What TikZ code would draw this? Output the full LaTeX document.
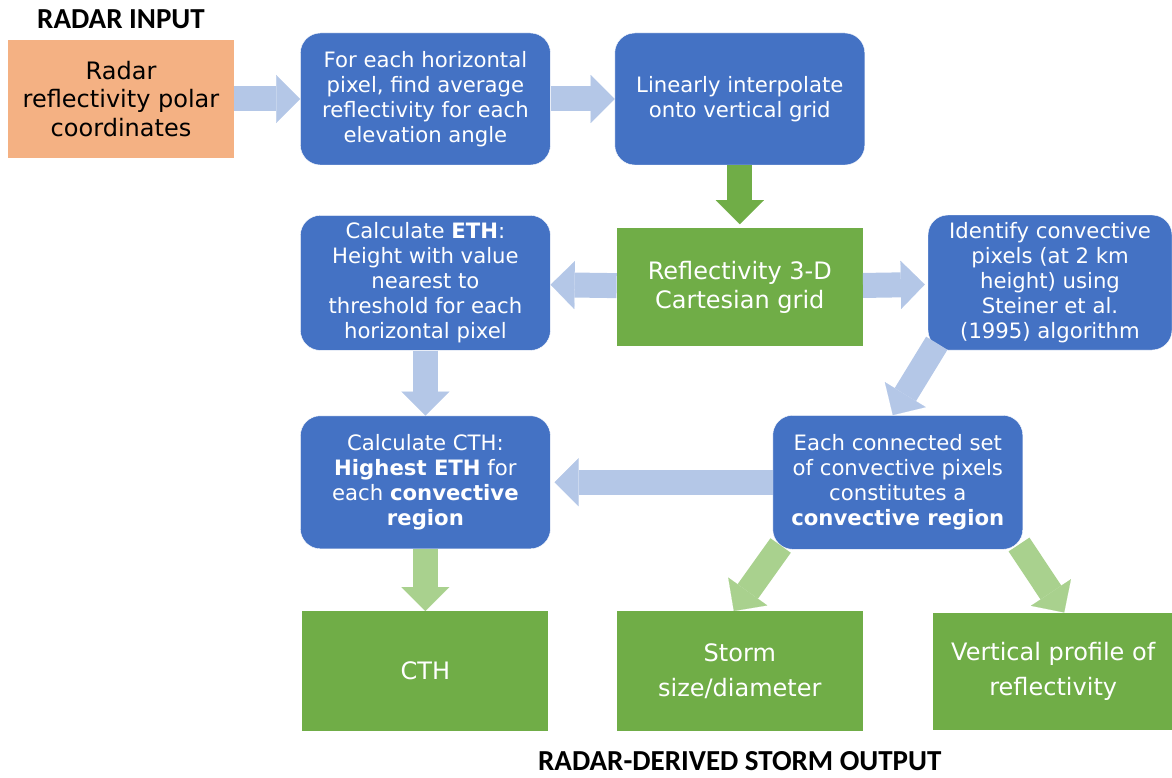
\documentclass[tikz,border=0pt]{standalone}
\usepackage{fontspec}
\setmainfont{DejaVu Sans}
\newfontfamily\headfont{Carlito}
\usetikzlibrary{arrows.meta,positioning}
\definecolor{procblue}{HTML}{4472C4}
\definecolor{gridgreen}{HTML}{70AD47}
\definecolor{inorange}{HTML}{F4B183}
\definecolor{paleblue}{HTML}{B4C7E7}
\definecolor{palegreen}{HTML}{A9D18E}
\tikzset{
    %Define style for process boxes
    process/.style={
           rectangle,
           rounded corners=20pt,
           draw=white, thin,
           fill=procblue,
           text=white,
           minimum width=250pt,
           minimum height=133pt,
           inner sep=0pt,
           font=\fontsize{21.2}{25}\selectfont,
           align=center},
    %Define style for products
    product/.style={
           rectangle,
           fill=gridgreen,
           text=white,
           minimum width=246pt,
           minimum height=118pt,
           inner sep=0pt,
           font=\fontsize{24}{29}\selectfont,
           align=center},
    input/.style={
           rectangle,
           fill=inorange,
           text=black,
           minimum width=226pt,
           minimum height=118pt,
           inner sep=0pt,
           font=\fontsize{24}{28.5}\selectfont,
           align=center},
    heading/.style={
           inner sep=0pt,
           font=\headfont\bfseries\fontsize{29}{32}\selectfont},
    % Define arrow styles
    blockarr/.style={
           -{Triangle[length=24pt,width=48pt,line width=0.1pt]},
           line width=25pt},
    pale/.style={blockarr, draw=paleblue},
    paleg/.style={blockarr, draw=palegreen},
    darkg/.style={blockarr, draw=gridgreen}
}
\begin{document}
\begin{tikzpicture}[x=1pt,y=-1pt]
\useasboundingbox (0,0) rectangle (1172,778);
 %nodes
\node[input](1) at (121,99){Radar\\reflectivity polar\\coordinates};
\node[process, minimum height=132pt, right=66pt of 1](2){For each horizontal\\pixel, find average\\reflectivity for each\\elevation angle};
\node[process, minimum height=132pt, right=64pt of 2](3){Linearly interpolate\\onto vertical grid};
\node[product, below=63pt of 3](4){Reflectivity 3-D\\Cartesian grid};
\node[process, minimum height=135pt, below=50pt of 2](5){Calculate \textbf{ETH}:\\Height with value\\nearest to\\threshold for each\\horizontal pixel};
\node[process, minimum width=244pt, minimum height=135pt](6) at (1050,282.5){Identify convective\\pixels (at 2 km\\height) using\\Steiner et al.\\(1995) algorithm};
\node[process, below=65pt of 5](7){Calculate CTH:\\\textbf{Highest ETH} for\\each \textbf{convective}\\\textbf{region}};
\node[process, minimum height=134pt, right=222pt of 7](8){Each connected set\\of convective pixels\\constitutes a\\\textbf{convective region}};
\node[product, minimum height=120pt, below=62pt of 7](9){CTH};
\node[product, minimum height=120pt, right=68pt of 9](10){Storm\\[6pt]size/diameter};
\node[product, minimum width=240pt, minimum height=117pt, right=70pt of 10](11){Vertical profile of\\[6pt]reflectivity};
\node[heading, above=11pt of 1](12){RADAR INPUT};
\node[heading, below=20pt of 10](13){RADAR-DERIVED STORM OUTPUT};
 %arrows
\draw[pale] (1) -- (2);
\draw[pale] (2) -- (3);
\draw[darkg, shorten >=4pt] (3) -- (4);
\draw[pale] (4) -- (5);
\draw[pale, shorten >=3pt] (4) -- (6);
\draw[pale] (5) -- (7);
\draw[pale, shorten >=4pt] (8) -- (7);
\draw[pale] ([shift={(9pt,7pt)}]6.south west) -- ([xshift=-5pt]8.north);
\draw[paleg] (7) -- (9);
\draw[paleg] ([shift={(8pt,4pt)}]8.south west) -- ([xshift=-6pt]10.north);
\draw[paleg] ([shift={(-4pt,5pt)}]8.south east) -- ([xshift=11pt]11.north);
\end{tikzpicture}
\end{document}
